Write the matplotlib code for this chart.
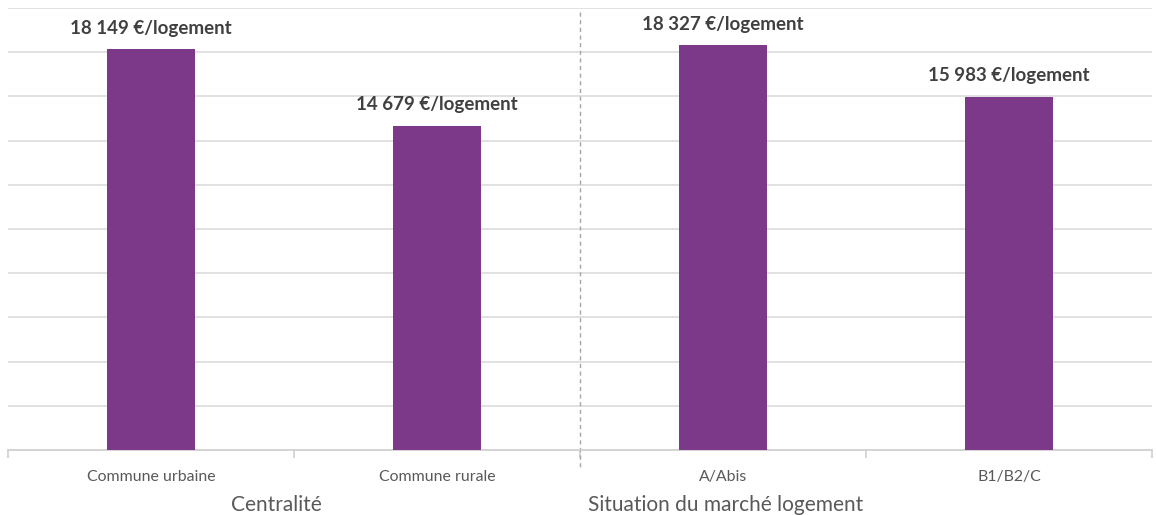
import numpy as np
import matplotlib.pyplot as plt

categories = ["Commune urbaine", "Commune rurale", "A/Abis", "B1/B2/C"]
values = [18149, 14679, 18327, 15983]
value_labels = ["18 149 €/logement", "14 679 €/logement", "18 327 €/logement", "15 983 €/logement"]
groups = ["Centralité", "Situation du marché logement"]
group_x = [0.44, 2.01]

plt.rcParams['font.family'] = ['Lato', 'DejaVu Sans']

fig = plt.figure(figsize=(11.56, 5.15), dpi=100)
ax = fig.add_axes([8 / 1156, 65 / 515, 1144 / 1156, 442 / 515])

x = np.arange(len(categories))
bars = ax.bar(x, values, width=0.31, color="#7c3889", zorder=3)

ax.set_xlim(-0.5, 3.5)
ax.set_ylim(0, 20000)
ax.set_yticks(np.arange(2000, 20001, 2000))
ax.yaxis.grid(True, color="#d9d9d9", linewidth=1.1)
ax.set_axisbelow(True)
ax.tick_params(axis="y", length=0, labelleft=False)

for s in ["top", "right", "left"]:
    ax.spines[s].set_visible(False)
ax.spines["bottom"].set_color("#d0d0d0")
ax.spines["bottom"].set_linewidth(1.3)

# category boundaries as small downward ticks
ax.set_xticks(np.arange(-0.5, 3.6, 1.0), minor=True)
ax.tick_params(axis="x", which="minor", length=6, width=1.2, color="#d0d0d0")
ax.set_xticks(x)
ax.set_xticklabels([])
ax.tick_params(axis="x", which="major", length=0)

for xi, cat in zip(x, categories):
    ax.text(xi, -0.061, cat, transform=ax.get_xaxis_transform(),
            ha="center", va="center", fontsize=11.4, color="#595959")
for gx, g in zip(group_x, groups):
    ax.text(gx, -0.124, g, transform=ax.get_xaxis_transform(),
            ha="center", va="center", fontsize=15, color="#595959")

for b, lab in zip(bars, value_labels):
    ax.annotate(lab, (b.get_x() + b.get_width() / 2, b.get_height()),
                xytext=(0, 15), textcoords="offset points",
                ha="center", va="center", fontsize=13.5, fontweight="bold",
                color="#404040")

# separator between the two groups
ax.plot([1.5, 1.5], [0.99, -0.045], transform=ax.get_xaxis_transform(),
        color="#a6a6a6", linestyle=(0, (3, 2.5)), linewidth=1.0, clip_on=False)

fig.savefig("out.png", dpi=100)
